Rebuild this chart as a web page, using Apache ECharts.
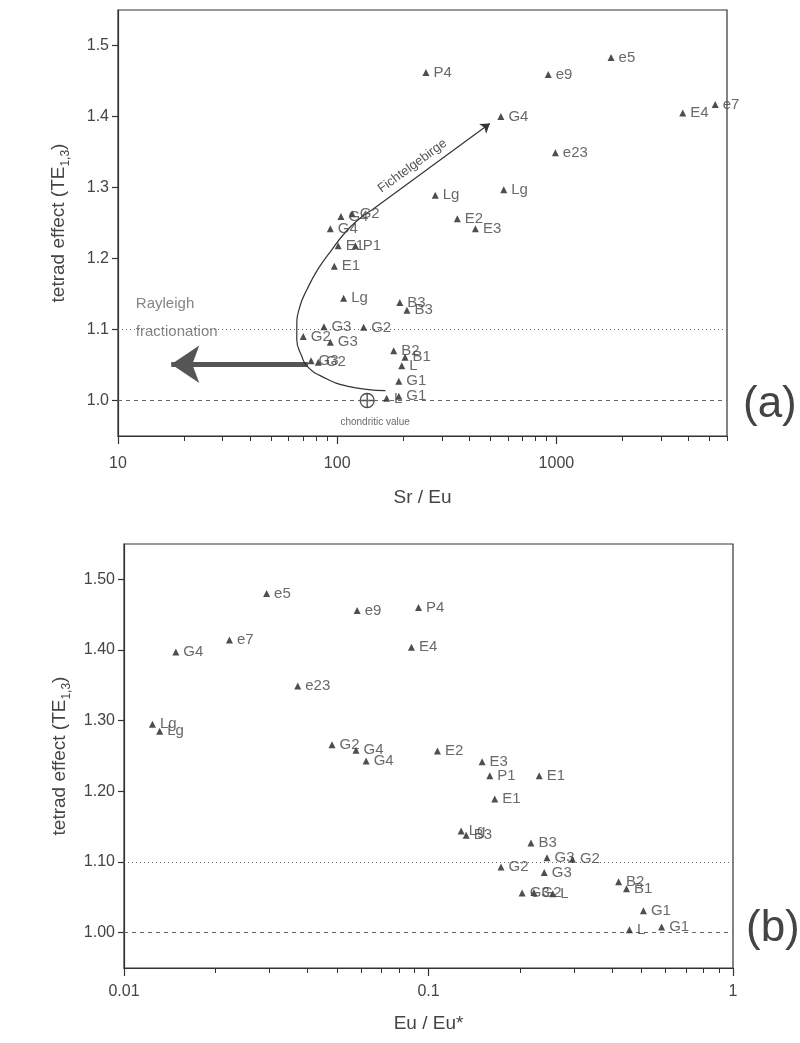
<!DOCTYPE html>
<html>
<head>
<meta charset="utf-8">
<script src="https://cdn.jsdelivr.net/npm/echarts@6/dist/echarts.min.js"></script>
<style>
  html, body { margin: 0; padding: 0; background: #fff; }
  #main { width: 800px; height: 1043px; }
</style>
</head>
<body>
<div id="main"></div>
<script>
// panel (a): tetrad effect vs Sr/Eu
var labelsA = ['P4', 'e9', 'e5', 'G4', 'E4', 'e7', 'e23', 'Lg', 'Lg', 'E2', 'E3',
  'G4', 'G2', 'G4', 'E1', 'P1', 'E1', 'Lg', 'B3', 'B3', 'G3', 'G2', 'G2', 'G3',
  'B2', 'B1', 'L', 'G3', 'G2', 'G1', 'G1', 'L'];
var srEu = [254, 918, 1775, 558, 3770, 5300, 989, 280, 575, 353, 427,
  104, 117, 93, 101, 121, 97, 107, 193, 208, 87, 132, 70, 93,
  181, 204, 197, 76, 82, 191, 191, 168];
var teA = [1.462, 1.459, 1.483, 1.400, 1.405, 1.417, 1.349, 1.289, 1.297, 1.256, 1.242,
  1.259, 1.263, 1.242, 1.218, 1.218, 1.189, 1.144, 1.138, 1.127, 1.104, 1.103, 1.090, 1.082,
  1.070, 1.061, 1.049, 1.056, 1.054, 1.027, 1.006, 1.003];

// panel (b): tetrad effect vs Eu/Eu*
var labelsB = ['e5', 'e9', 'P4', 'e7', 'G4', 'E4', 'e23', 'Lg', 'Lg', 'G2', 'G4', 'G4',
  'E2', 'E3', 'P1', 'E1', 'E1', 'Lg', 'B3', 'B3', 'G3', 'G2', 'G2', 'G3',
  'B2', 'B1', 'G3', 'G2', 'L', 'G1', 'L', 'G1'];
var euEu = [0.0294, 0.0583, 0.0927, 0.0222, 0.0148, 0.0879, 0.0372, 0.0124, 0.0131, 0.0482, 0.0578, 0.0624,
  0.107, 0.150, 0.159, 0.231, 0.165, 0.128, 0.133, 0.217, 0.245, 0.297, 0.173, 0.240,
  0.421, 0.447, 0.203, 0.222, 0.256, 0.508, 0.457, 0.583];
var teB = [1.480, 1.456, 1.460, 1.414, 1.397, 1.404, 1.349, 1.295, 1.285, 1.266, 1.258, 1.243,
  1.257, 1.242, 1.222, 1.222, 1.189, 1.144, 1.138, 1.127, 1.106, 1.104, 1.093, 1.085,
  1.072, 1.062, 1.056, 1.057, 1.055, 1.031, 1.004, 1.008];

// Fichtelgebirge trend curve and its arrow
var trendX = [166, 112, 85, 73, 69, 65.4, 65.4, 67.5, 72.7, 81.7, 94.8, 109, 125, 145];
var trendY = [1.014, 1.020, 1.034, 1.048, 1.062, 1.086, 1.104, 1.132, 1.156, 1.185, 1.213, 1.237, 1.255, 1.269];
var trendArrowX = [145, 497];
var trendArrowY = [1.269, 1.390];

// Rayleigh fractionation arrow
var rayleighX = [73.5, 17.5];
var rayleighY = [1.051, 1.051];
var chondrite = [137, 1.0];

var xTicksA = [10, 100, 1000];
var xMinorA = [20, 30, 40, 50, 60, 70, 80, 90, 200, 300, 400, 500, 600, 700, 800, 900,
  2000, 3000, 4000, 5000, 6000];
var xTicksB = [0.01, 0.1, 1];
var xMinorB = [0.02, 0.03, 0.04, 0.05, 0.06, 0.07, 0.08, 0.09,
  0.2, 0.3, 0.4, 0.5, 0.6, 0.7, 0.8, 0.9];
var yTicks = [1.0, 1.1, 1.2, 1.3, 1.4, 1.5];

var ink = '#333';
var textCol = '#444';
var font = 'Liberation Sans, Arial, sans-serif';

function pts(xs, ys, names) {
  return xs.map(function (x, i) {
    return { name: names ? names[i] : '', value: [x, ys[i]] };
  });
}

function xAxisPair(grid, min, max, ticks, minor, name, gap, margin) {
  var major = {
    type: 'log', logBase: 10, gridIndex: grid, min: min, max: max, position: 'bottom',
    name: name, nameLocation: 'middle', nameGap: gap,
    nameTextStyle: { fontSize: 19, color: textCol, fontFamily: font },
    axisLine: { lineStyle: { color: ink, width: 1.2 } },
    axisTick: { customValues: ticks, length: 8, lineStyle: { color: ink, width: 1.2 } },
    axisLabel: {
      customValues: ticks, margin: margin, fontSize: 16, color: textCol, fontFamily: font,
      formatter: function (v) { return String(+(+v).toPrecision(3)); }
    },
    splitLine: { show: false }
  };
  var small = {
    type: 'log', logBase: 10, gridIndex: grid, min: min, max: max, position: 'bottom',
    axisLine: { show: false },
    axisTick: { customValues: minor, length: 5, lineStyle: { color: ink, width: 1 } },
    axisLabel: { show: false },
    splitLine: { show: false }
  };
  return [major, small];
}

function yAxis(grid, digits, gap) {
  return {
    type: 'value', gridIndex: grid, min: 0.95, max: 1.55,
    name: '{t|tetrad effect (TE}{s|1,3}{t|)}', nameLocation: 'middle', nameGap: gap, nameRotate: 90,
    nameTextStyle: {
      rich: {
        t: { fontSize: 19, lineHeight: 26, color: textCol, fontFamily: font },
        s: { fontSize: 12, lineHeight: 14, color: textCol, fontFamily: font, verticalAlign: 'bottom' }
      }
    },
    axisLine: { lineStyle: { color: ink, width: 1.2 } },
    axisTick: { customValues: yTicks, length: 6, lineStyle: { color: ink, width: 1.2 } },
    axisLabel: {
      customValues: yTicks, margin: 9, fontSize: 16, color: textCol, fontFamily: font,
      formatter: function (v) { return (+v).toFixed(digits); }
    },
    splitLine: { show: false }
  };
}

var refLines = {
  silent: true, symbol: 'none', label: { show: false },
  data: [
    { yAxis: 1.1, lineStyle: { type: [1, 3], color: '#666', width: 1 } },
    { yAxis: 1.0, lineStyle: { type: [4, 4], color: '#666', width: 1 } }
  ]
};

function samples(xi, yi, data) {
  return {
    type: 'scatter', xAxisIndex: xi, yAxisIndex: yi, data: data,
    symbol: 'triangle', symbolSize: 7,
    itemStyle: { color: '#222' },
    label: {
      show: true, position: 'right', distance: 4, formatter: '{b}',
      fontSize: 15, color: textCol, fontFamily: font
    },
    markLine: refLines,
    z: 5
  };
}

var chart = echarts.init(document.getElementById('main'));
chart.setOption({
  animation: false,
  backgroundColor: '#fff',
  title: [
    { text: '(a)', left: 738, top: 378, textStyle: { fontSize: 44, fontWeight: 'normal', color: textCol, fontFamily: font } },
    { text: '(b)', left: 741, top: 902, textStyle: { fontSize: 44, fontWeight: 'normal', color: textCol, fontFamily: font } }
  ],
  grid: [
    { left: 118, right: 73, top: 10, height: 426, show: true, borderColor: ink, borderWidth: 1.2 },
    { left: 124, right: 67, top: 544, height: 424, show: true, borderColor: ink, borderWidth: 1.2 }
  ],
  xAxis: xAxisPair(0, 10, 6000, xTicksA, xMinorA, 'Sr / Eu', 52, 20)
    .concat(xAxisPair(1, 0.01, 1, xTicksB, xMinorB, 'Eu / Eu*', 46, 16)),
  yAxis: [yAxis(0, 1, 46), yAxis(1, 2, 50)],
  series: [
    samples(0, 0, pts(srEu, teA, labelsA)),
    {
      type: 'line', xAxisIndex: 0, yAxisIndex: 0, smooth: 0.5, symbol: 'none',
      data: trendX.map(function (x, i) { return [x, trendY[i]]; }),
      lineStyle: { color: ink, width: 1.2 }, silent: true
    },
    {
      type: 'lines', coordinateSystem: 'cartesian2d', xAxisIndex: 0, yAxisIndex: 0,
      data: [{ coords: [[trendArrowX[0], trendArrowY[0]], [trendArrowX[1], trendArrowY[1]]] }],
      symbol: ['none', 'arrow'], symbolSize: 9,
      lineStyle: { color: ink, width: 1.2, opacity: 1 },
      label: {
        show: true, position: 'insideStartTop', formatter: 'Fichtelgebirge',
        fontSize: 13, color: '#555', fontFamily: font, distance: 5, padding: [0, 0, 0, 12]
      }
    },
    {
      type: 'lines', coordinateSystem: 'cartesian2d', xAxisIndex: 0, yAxisIndex: 0,
      data: [{ coords: [[rayleighX[0], rayleighY[0]], [rayleighX[1], rayleighY[1]]] }],
      symbol: ['none', 'arrow'], symbolSize: 28,
      lineStyle: { color: '#555', width: 5, opacity: 1 }
    },
    {
      type: 'scatter', xAxisIndex: 0, yAxisIndex: 0,
      data: [{ name: 'chondritic value', value: chondrite }],
      symbol: 'path://M10,0A10,10,0,1,1,10,20A10,10,0,1,1,10,0ZM10,0L10,20M0,10L20,10',
      symbolSize: 14,
      itemStyle: { color: 'rgba(0,0,0,0)', borderColor: '#222', borderWidth: 1.3 },
      label: {
        show: true, position: 'bottom', distance: 9, offset: [8, 0], formatter: '{b}',
        fontSize: 10, color: textCol, fontFamily: font
      }
    },
    {
      type: 'scatter', xAxisIndex: 0, yAxisIndex: 0,
      data: [{ name: 'Rayleigh\nfractionation', value: [12, 1.116] }],
      symbolSize: 1, itemStyle: { color: 'rgba(0,0,0,0)' },
      label: {
        show: true, position: 'right', distance: 0, formatter: '{b}',
        fontSize: 15, lineHeight: 28, color: '#666', fontFamily: font
      }
    },
    samples(2, 1, pts(euEu, teB, labelsB))
  ]
});
</script>
</body>
</html>
